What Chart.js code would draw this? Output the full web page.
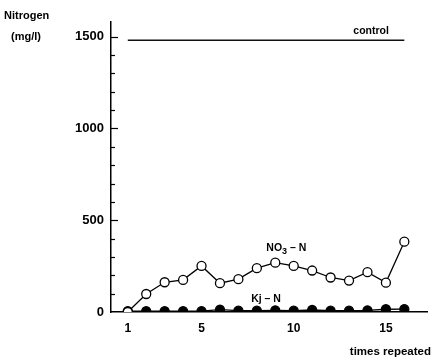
<!DOCTYPE html>
<html>
<head>
<meta charset="utf-8">
<script src="https://cdn.jsdelivr.net/npm/chart.js@4"></script>
<style>
  html, body { margin: 0; padding: 0; background: #fff; }
  #wrap { width: 433px; height: 357px; }
</style>
</head>
<body>
<div id="wrap"><canvas id="chart"></canvas></div>
<script>
// Werte
const wiederholung = [1, 2, 3, 4, 5, 6, 7, 8, 9, 10, 11, 12, 13, 14, 15, 16];
const no3N = [0, 98, 162, 175, 251, 157, 179, 239, 269, 251, 226, 188, 171, 217, 160, 383];
const kjN = [5, 4, 4, 4, 5, 13, 7, 7, 9, 7, 11, 7, 7, 9, 15, 16];
const kontrolle = 1480;
const xTickLabels = [1, 5, 10, 15];
const yTickLabels = [0, 500, 1000, 1500];

const schrift = "'Liberation Sans', Arial, sans-serif";

function punkte(werte) {
  return wiederholung.map(function (x, i) { return { x: x, y: werte[i] }; });
}

// Texte und nach innen zeigende Striche auf der y-Achse
const beschriftung = {
  id: "beschriftung",
  afterDraw(chart) {
    const ctx = chart.ctx;
    const xs = chart.scales.x;
    const ys = chart.scales.y;
    ctx.save();
    ctx.strokeStyle = "#000";
    ctx.lineWidth = 1.2;
    for (let v = 100; v <= 1500; v += 100) {
      const py = Math.round(ys.getPixelForValue(v)) + 0.5;
      const len = v % 500 === 0 ? 7 : 4;
      ctx.beginPath();
      ctx.moveTo(xs.left, py);
      ctx.lineTo(xs.left + len, py);
      ctx.stroke();
    }
    ctx.fillStyle = "#000";
    ctx.font = "bold 11px " + schrift;
    ctx.textAlign = "left";
    ctx.textBaseline = "alphabetic";
    ctx.fillText("Nitrogen", 4, 19);
    ctx.fillText("(mg/l)", 11, 40);
    ctx.textAlign = "right";
    ctx.font = "bold 11.5px " + schrift;
    ctx.fillText("times repeated", 431, 355);

    ctx.font = "bold 10.5px " + schrift;
    ctx.textAlign = "center";
    ctx.fillText("control", xs.getPixelForValue(14.2), ys.getPixelForValue(1515));

    // NO3-N mit tiefgestellter 3
    let x = xs.getPixelForValue(9.6);
    let y = ys.getPixelForValue(335);
    ctx.textAlign = "left";
    const t1 = "NO", t2 = "3", t3 = " \u2013 N";
    const w1 = ctx.measureText(t1).width;
    const w3 = ctx.measureText(t3).width;
    ctx.font = "bold 9px " + schrift;
    const w2 = ctx.measureText(t2).width;
    let start = x - (w1 + w2 + w3) / 2;
    ctx.font = "bold 10.5px " + schrift;
    ctx.fillText(t1, start, y);
    ctx.font = "bold 9px " + schrift;
    ctx.fillText(t2, start + w1, y + 3);
    ctx.font = "bold 10.5px " + schrift;
    ctx.fillText(t3, start + w1 + w2, y);

    ctx.textAlign = "center";
    ctx.fillText("Kj \u2013 N", xs.getPixelForValue(8.5), ys.getPixelForValue(55));
    ctx.restore();
  }
};

new Chart(document.querySelector("#chart"), {
  type: "line",
  data: {
    datasets: [
      {
        label: "control",
        data: [{ x: 1, y: kontrolle }, { x: 16, y: kontrolle }],
        borderColor: "#111",
        borderWidth: 1.5,
        pointRadius: 0,
        fill: false
      },
      {
        label: "NO3-N",
        data: punkte(no3N),
        borderColor: "#000",
        borderWidth: 1.3,
        backgroundColor: "#fff",
        pointBackgroundColor: "#fff",
        pointBorderColor: "#000",
        pointBorderWidth: 1.3,
        pointRadius: 4.5,
        tension: 0
      },
      {
        label: "Kj-N",
        data: punkte(kjN),
        borderColor: "#000",
        borderWidth: 1.3,
        pointBackgroundColor: "#000",
        pointBorderColor: "#000",
        pointRadius: 4.5,
        tension: 0
      }
    ]
  },
  options: {
    responsive: true,
    maintainAspectRatio: false,
    animation: false,
    layout: { padding: { top: 22, right: 3, left: 0, bottom: 0 } },
    plugins: {
      legend: { display: false },
      tooltip: { enabled: false }
    },
    scales: {
      x: {
        type: "linear",
        min: 0.09,
        max: 17.24,
        afterFit(scale) { scale.height = 45; },
        afterBuildTicks(scale) {
          scale.ticks = xTickLabels.map(function (v) { return { value: v }; });
        },
        grid: { display: false, drawTicks: false },
        border: { display: true, color: "#000", width: 1.5 },
        ticks: {
          autoSkip: false,
          padding: 9,
          color: "#000",
          font: { family: schrift, size: 12, weight: "bold" },
          callback: function (v) { return String(v); }
        }
      },
      y: {
        type: "linear",
        min: 0,
        max: 1580,
        afterFit(scale) { scale.width = 111; },
        afterBuildTicks(scale) {
          scale.ticks = yTickLabels.map(function (v) { return { value: v }; });
        },
        grid: { display: false, drawTicks: false },
        border: { display: true, color: "#000", width: 1.5 },
        ticks: {
          padding: 7,
          color: "#000",
          font: { family: schrift, size: 13, weight: "bold" },
          callback: function (v) { return String(v); }
        }
      }
    }
  },
  plugins: [beschriftung]
});
</script>
</body>
</html>
